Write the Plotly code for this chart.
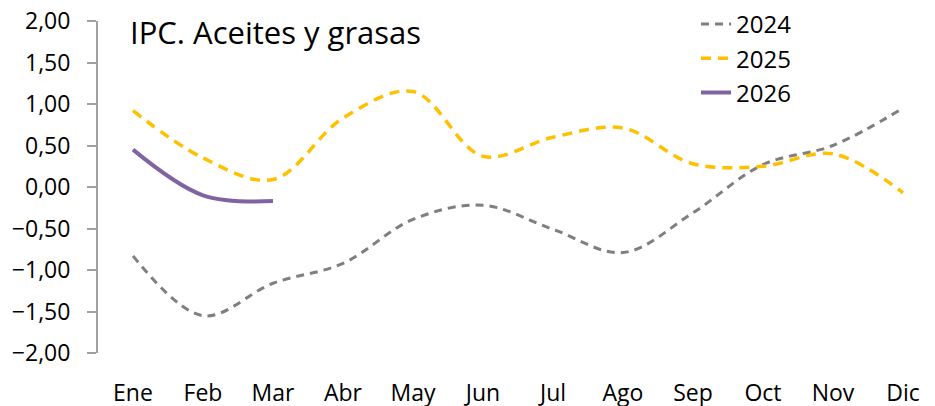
import plotly.graph_objects as go

months = ["Ene", "Feb", "Mar", "Abr", "May", "Jun", "Jul", "Ago", "Sep", "Oct", "Nov", "Dic"]
y2024 = [-0.83, -1.55, -1.16, -0.92, -0.39, -0.22, -0.51, -0.79, -0.31, 0.27, 0.50, 0.95]
y2025 = [0.92, 0.35, 0.09, 0.83, 1.15, 0.37, 0.60, 0.71, 0.28, 0.25, 0.40, -0.07]
y2026 = [0.45, -0.10, -0.17]
months2026 = months[:3]

# the page adds an 8px body margin, so the plot area is placed to compensate
W, H = 935, 406
L, R, T, B = 90, 8, 13, 61
FONT = "Open Sans"
AXC = "#a0a0a0"

fig = go.Figure()
fig.add_trace(go.Scatter(x=months, y=y2024, name="2024", mode="lines",
                         line=dict(color="#7f7f7f", width=3, dash="8px,6px", shape="spline", smoothing=1.0)))
fig.add_trace(go.Scatter(x=months, y=y2025, name="2025", mode="lines",
                         line=dict(color="#FFC000", width=3.5, dash="10px,7px", shape="spline", smoothing=1.0)))
fig.add_trace(go.Scatter(x=months2026, y=y2026, name="2026", mode="lines",
                         line=dict(color="#8064A2", width=4, shape="spline", smoothing=1.0)))

PW = W - L - R
PH = H - T - B
xr = [-0.5, -0.5 + PW / 70.0]

fig.update_layout(
    template="none",
    width=W, height=H,
    margin=dict(l=L, r=R, t=T, b=B, pad=0, autoexpand=False),
    paper_bgcolor="white", plot_bgcolor="white",
    separators=",.",
    font=dict(family=FONT, size=24, color="#000000"),
    showlegend=True,
    legend=dict(x=(688 - L) / PW, y=1 + 19 / PH, xanchor="left", yanchor="top",
                bgcolor="rgba(0,0,0,0)", font=dict(size=24), tracegroupgap=0),
    xaxis=dict(type="category", categoryarray=months, range=xr, showgrid=False,
               showline=False, ticks="", showticklabels=True, automargin=False,
               tickfont=dict(size=23), ticklabelstandoff=24, zeroline=False,
               ticklabeloverflow="allow"),
    xaxis2=dict(type="linear", overlaying="x", anchor="free", position=0.5,
                range=xr, tick0=-0.5, dtick=1, showgrid=False, zeroline=False,
                showline=True, linecolor=AXC, linewidth=2, automargin=False,
                ticks="outside", ticklen=8, tickwidth=2, tickcolor=AXC,
                showticklabels=False),
    yaxis=dict(range=[-2, 2], dtick=0.5, tick0=0, tickformat=".2f", automargin=False,
               showgrid=False, zeroline=False, showline=True, linecolor=AXC, linewidth=2,
               ticks="outside", ticklen=9, tickwidth=2, tickcolor=AXC,
               ticklabelstandoff=12, tickfont=dict(size=23), ticklabeloverflow="allow"),
    title=dict(text="IPC. Aceites y grasas", x=122 / W, xanchor="left", automargin=False,
               y=1 - 14 / H, yanchor="top", font=dict(size=31, family=FONT)),
)

fig.write_html("out.html")
